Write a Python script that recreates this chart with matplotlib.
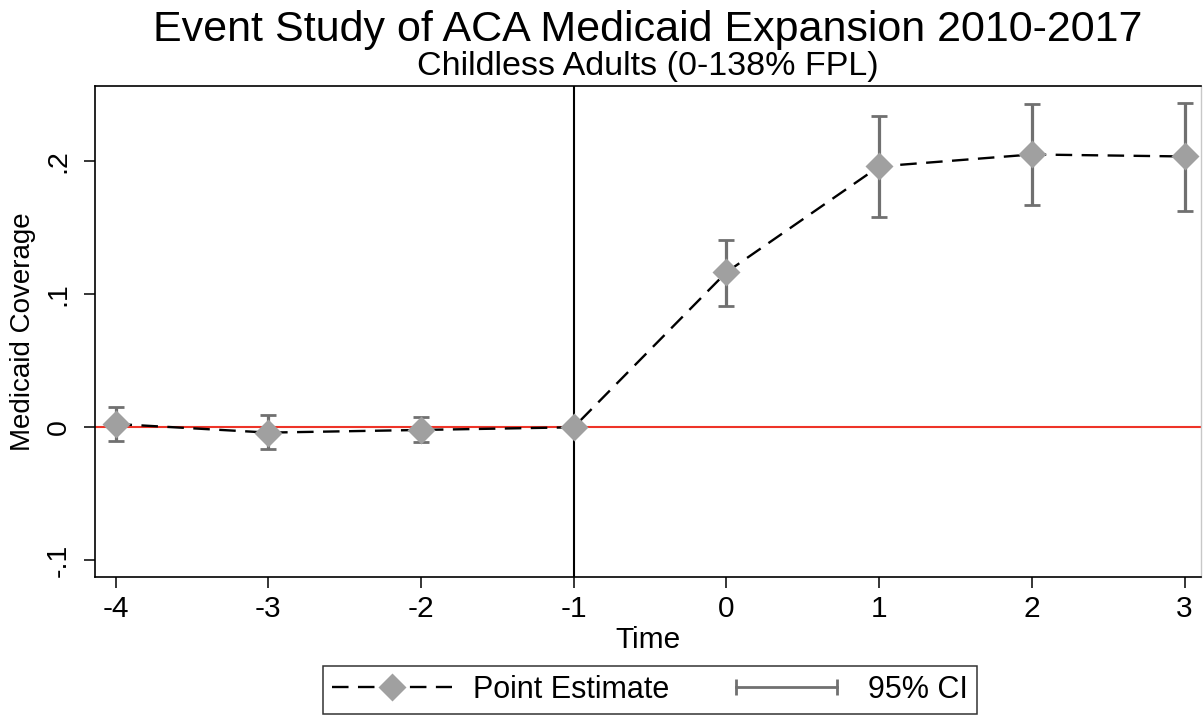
import numpy as np
import matplotlib
matplotlib.use('Agg')
import matplotlib.pyplot as plt
from matplotlib.lines import Line2D
from matplotlib.legend_handler import HandlerLine2D

plt.rcParams['font.family'] = ['Liberation Sans', 'DejaVu Sans']

###########################################################################################
# event study estimates

event_time = [-4, -3, -2, -1, 0, 1, 2, 3]
point_estimate = [0.0025, -0.004, -0.002, 0.0, 0.1165, 0.196, 0.205, 0.2035]
ci_low = [-0.010, -0.0165, -0.011, np.nan, 0.091, 0.158, 0.167, 0.1625]
ci_high = [0.015, 0.0095, 0.0075, np.nan, 0.141, 0.234, 0.243, 0.244]

y_ticks = [-0.1, 0.0, 0.1, 0.2]
y_tick_labels = ['-.1', '0', '.1', '.2']

title = 'Event Study of ACA Medicaid Expansion 2010-2017'
subtitle = 'Childless Adults (0-138% FPL)'

###########################################################################################

diamond_gray = '#a0a0a0'
ci_gray = '#707070'

fig = plt.figure(figsize=(12.03, 7.15), dpi=100)
ax = fig.add_axes([0.079, 0.193, 0.919, 0.687])

x = np.array(event_time)
est = np.array(point_estimate)
lo = np.array(ci_low)
hi = np.array(ci_high)
has_ci = ~np.isnan(lo)

# reference lines
ax.axhline(0, color='#ee3428', lw=1.5, zorder=1)
ax.axvline(-1, color='black', lw=1.5, zorder=1)

# confidence intervals
ax.errorbar(x[has_ci], est[has_ci],
            yerr=[est[has_ci] - lo[has_ci], hi[has_ci] - est[has_ci]],
            fmt='none', ecolor=ci_gray, elinewidth=2.3, capsize=5.5, capthick=2.0, zorder=2)

# dashed connecting line and diamonds
ax.plot(x, est, color='black', lw=1.7, dashes=(7, 4), zorder=3)
ax.plot(x, est, linestyle='none', marker='D', ms=14, mfc=diamond_gray, mec='none', zorder=4)

ax.set_xlim(-4.134, 3.105)
ax.set_ylim(-0.1125, 0.2566)
ax.set_xticks(event_time)
ax.set_xticklabels([str(t) for t in event_time])
ax.set_yticks(y_ticks)
ax.set_yticklabels(y_tick_labels, rotation=90, va='center')
ax.tick_params(axis='both', length=8, width=1.1, color='black')
ax.tick_params(axis='x', labelsize=21.5, pad=5)
ax.tick_params(axis='y', labelsize=20.5, pad=9)

for side in ['left', 'top', 'bottom']:
    ax.spines[side].set_linewidth(1.2)
ax.spines['right'].set_color('#c8c8c8')
ax.spines['right'].set_linewidth(1.0)

ax.set_xlabel('Time', fontsize=21.5, labelpad=2)
ax.set_ylabel('Medicaid Coverage', fontsize=20, labelpad=7)

# titles
fig.text(0.5385, 1 - 30 / 715.0, title, fontsize=31, ha='center', va='center')
fig.text(0.5385, 1 - 66 / 715.0, subtitle, fontsize=24.5, ha='center', va='center')

# legend below the plot
est_handle = Line2D([], [], color='black', lw=1.7, dashes=(7, 4), marker='D',
                    ms=14, mfc=diamond_gray, mec='none')
ci_handle = Line2D([], [], color=ci_gray, lw=2.0, marker='|', ms=11, mew=2.0, mec=ci_gray)
leg = fig.legend([est_handle, ci_handle], ['Point Estimate', '95% CI'],
                 handler_map={est_handle: HandlerLine2D(numpoints=1),
                              ci_handle: HandlerLine2D(numpoints=2)},
                 loc='upper center', bbox_to_anchor=(650 / 1203.0, 1 - 666 / 715.0),
                 ncol=2, fontsize=22, frameon=True, fancybox=False, shadow=False,
                 handlelength=3.9, handletextpad=0.7, columnspacing=1.9,
                 borderpad=0.3, borderaxespad=0)
leg.get_frame().set_edgecolor('black')
leg.get_frame().set_linewidth(1.1)

fig.savefig('out.png', dpi=100)
